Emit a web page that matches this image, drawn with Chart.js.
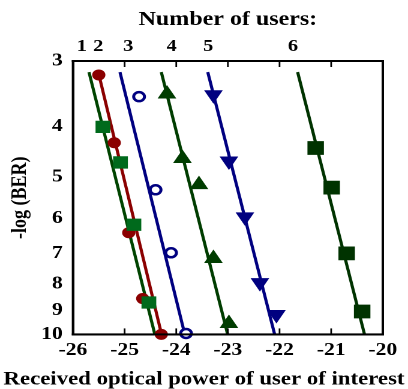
<script src="https://cdn.jsdelivr.net/npm/chart.js"></script>
<style>
    body {
        margin: 0;
        padding: 0;
        background-color: #ffffff;
    }
    /* drawn 340 wide and shown 408 wide, so the figure is stretched sideways */
    #berChart {
        display: block;
        width: 408px !important;
        height: 389px !important;
    }
</style>

<canvas id="berChart" width="340" height="389"></canvas>

<script>
    // -log(BER) axis ticks
    const yTicks = [3, 4, 5, 6, 7, 8, 9, 10];

    // top axis: number of users, placed near the top of each curve
    const userLabels = ['1', '2', '3', '4', '5', '6'];
    const userLabelPos = [-25.83, -25.51, -24.93, -24.09, -23.38, -21.74];

    // fitted lines, one per user count: [power at top, power at bottom]
    const fitPower1 = [-25.69, -24.41];
    const fitPower2 = [-25.50, -24.28];
    const fitPower3 = [-25.09, -23.83];
    const fitPower4 = [-24.29, -23.00];
    const fitPower5 = [-23.39, -22.09];
    const fitPower6 = [-21.65, -20.35];
    const fitBer = [3.15, 10.04];
    const fitBer2 = [3.18, 10.04];

    // measured points
    const power1 = [-25.42, -25.08, -24.82, -24.53];
    const ber1 = [4.01, 4.69, 6.17, 8.69];
    const power2 = [-25.50, -25.20, -24.92, -24.65, -24.29];
    const ber2 = [3.19, 4.30, 6.39, 8.54, 10.0];
    const power3 = [-24.72, -24.40, -24.10, -23.81];
    const ber3 = [3.51, 5.29, 6.98, 9.96];
    const power4 = [-24.18, -23.88, -23.56, -23.28, -22.98];
    const ber4 = [3.47, 4.61, 5.17, 7.16, 9.53];
    const power5 = [-23.28, -22.98, -22.67, -22.38, -22.06];
    const ber5 = [3.48, 4.66, 5.96, 7.96, 9.16];
    const power6 = [-21.30, -20.99, -20.70, -20.40];
    const ber6 = [4.40, 5.24, 7.00, 9.04];

    const FONT = '"Liberation Serif", "Times New Roman", serif';
    const frameBorder = { display: true, color: '#000', width: 2 };

    const toPoints = (xs, ys) => xs.map((x, i) => ({ x: x, y: ys[i] }));

    function fitLine(xs, ys, color) {
        return {
            data: toPoints(xs, ys),
            showLine: true,
            borderColor: color,
            borderWidth: 2.6,
            pointRadius: 0,
            order: 2
        };
    }

    function markers(xs, ys, style, color, radius, opts) {
        return Object.assign({
            data: toPoints(xs, ys),
            showLine: false,
            pointStyle: style,
            pointRadius: radius,
            backgroundColor: color,
            borderColor: color,
            borderWidth: 1,
            clip: false,
            order: 1
        }, opts || {});
    }

    // solid box round the plot plus short inward tick marks top and bottom
    const plotFrame = {
        id: 'plotFrame',
        afterDraw(chart) {
            const { ctx, chartArea: a, scales } = chart;
            const w = a.right - a.left;
            const h = a.bottom - a.top;
            ctx.save();
            ctx.fillStyle = '#000';
            ctx.fillRect(a.left - 1, a.top - 1, w + 2, 2);
            ctx.fillRect(a.left - 1, a.bottom - 1, w + 2, 2);
            ctx.fillRect(a.left - 1, a.top - 1, 2, h + 2);
            ctx.fillRect(a.right - 1, a.top - 1, 2, h + 2);
            scales.x.ticks.forEach(t => {
                const px = scales.x.getPixelForValue(t.value);
                ctx.fillRect(px - 0.7, a.bottom - 6, 1.4, 6);
                ctx.fillRect(px - 0.7, a.top, 1.4, 6);
            });
            ctx.restore();
        }
    };

    const red = '#8b0000';
    const navy = '#000080';

    new Chart(document.getElementById('berChart'), {
        type: 'scatter',
        data: {
            datasets: [
                markers(power1, ber1, 'rect', '#006a1c', 8),
                markers(power2, ber2, 'circle', red, 5),
                markers(power3, ber3, 'circle', navy, 4.5, { backgroundColor: '#ffffff', borderWidth: 2.5 }),
                markers(power4, ber4, 'triangle', '#003d00', 8),
                markers(power5, ber5, 'triangle', navy, 8, { rotation: 180 }),
                markers(power6, ber6, 'rect', '#003300', 9),
                fitLine(fitPower1, fitBer, '#004400'),
                fitLine(fitPower2, fitBer2, red),
                fitLine(fitPower3, fitBer, navy),
                fitLine(fitPower4, fitBer, '#003d00'),
                fitLine(fitPower5, fitBer, navy),
                fitLine(fitPower6, fitBer, '#003300')
            ]
        },
        options: {
            responsive: false,
            animation: false,
            devicePixelRatio: 2,
            layout: { padding: 0 },
            plugins: {
                legend: { display: false },
                tooltip: { enabled: false },
                title: {
                    display: true,
                    position: 'bottom',
                    text: 'Received optical power of user of interest',
                    color: '#000',
                    font: { family: FONT, size: 19, weight: 'bold', lineHeight: 1 },
                    padding: { top: 9, bottom: 0 }
                }
            },
            scales: {
                x: {
                    type: 'linear',
                    position: 'bottom',
                    min: -26,
                    max: -20,
                    grid: { display: false, drawTicks: false },
                    border: frameBorder,
                    ticks: {
                        stepSize: 1,
                        padding: 5,
                        color: '#000',
                        font: { family: FONT, size: 18, weight: 'bold' },
                        callback: v => String(v)
                    },
                    afterFit: scale => {
                        scale.height = 26.6;
                    }
                },
                x2: {
                    type: 'linear',
                    position: 'top',
                    min: -26,
                    max: -20,
                    grid: { display: false, drawTicks: false },
                    border: frameBorder,
                    afterBuildTicks: scale => {
                        scale.ticks = userLabelPos.map(v => ({ value: v }));
                    },
                    ticks: {
                        autoSkip: false,
                        maxRotation: 0,
                        padding: 4,
                        color: '#000',
                        font: { family: FONT, size: 17, weight: 'bold' },
                        callback: (v, i) => userLabels[i]
                    },
                    title: {
                        display: true,
                        text: 'Number of users:',
                        color: '#000',
                        font: { family: FONT, size: 20, weight: 'bold' },
                        padding: { top: 8, bottom: 5 }
                    },
                    afterFit: scale => {
                        scale.height = 61;
                    }
                },
                y: {
                    type: 'logarithmic',
                    reverse: true,
                    min: 3,
                    max: 10,
                    grid: { display: false, drawTicks: false },
                    border: frameBorder,
                    afterBuildTicks: scale => {
                        scale.ticks = yTicks.map(v => ({ value: v }));
                    },
                    ticks: {
                        padding: 8.6,
                        color: '#000',
                        font: { family: FONT, size: 18, weight: 'bold' },
                        callback: v => String(v)
                    },
                    title: {
                        display: true,
                        text: '-log (BER)',
                        color: '#000',
                        font: { family: FONT, size: 18, weight: 'bold' },
                        padding: { top: 6, bottom: 6.6 }
                    },
                    afterFit: scale => {
                        scale.width = 60.8;
                    }
                },
                // empty axis on the right: closes the box and keeps the margin
                yRight: {
                    type: 'linear',
                    position: 'right',
                    grid: { display: false, drawTicks: false },
                    border: frameBorder,
                    ticks: { display: false },
                    afterFit: scale => {
                        scale.width = 21;
                    }
                }
            }
        },
        plugins: [plotFrame]
    });
</script>
